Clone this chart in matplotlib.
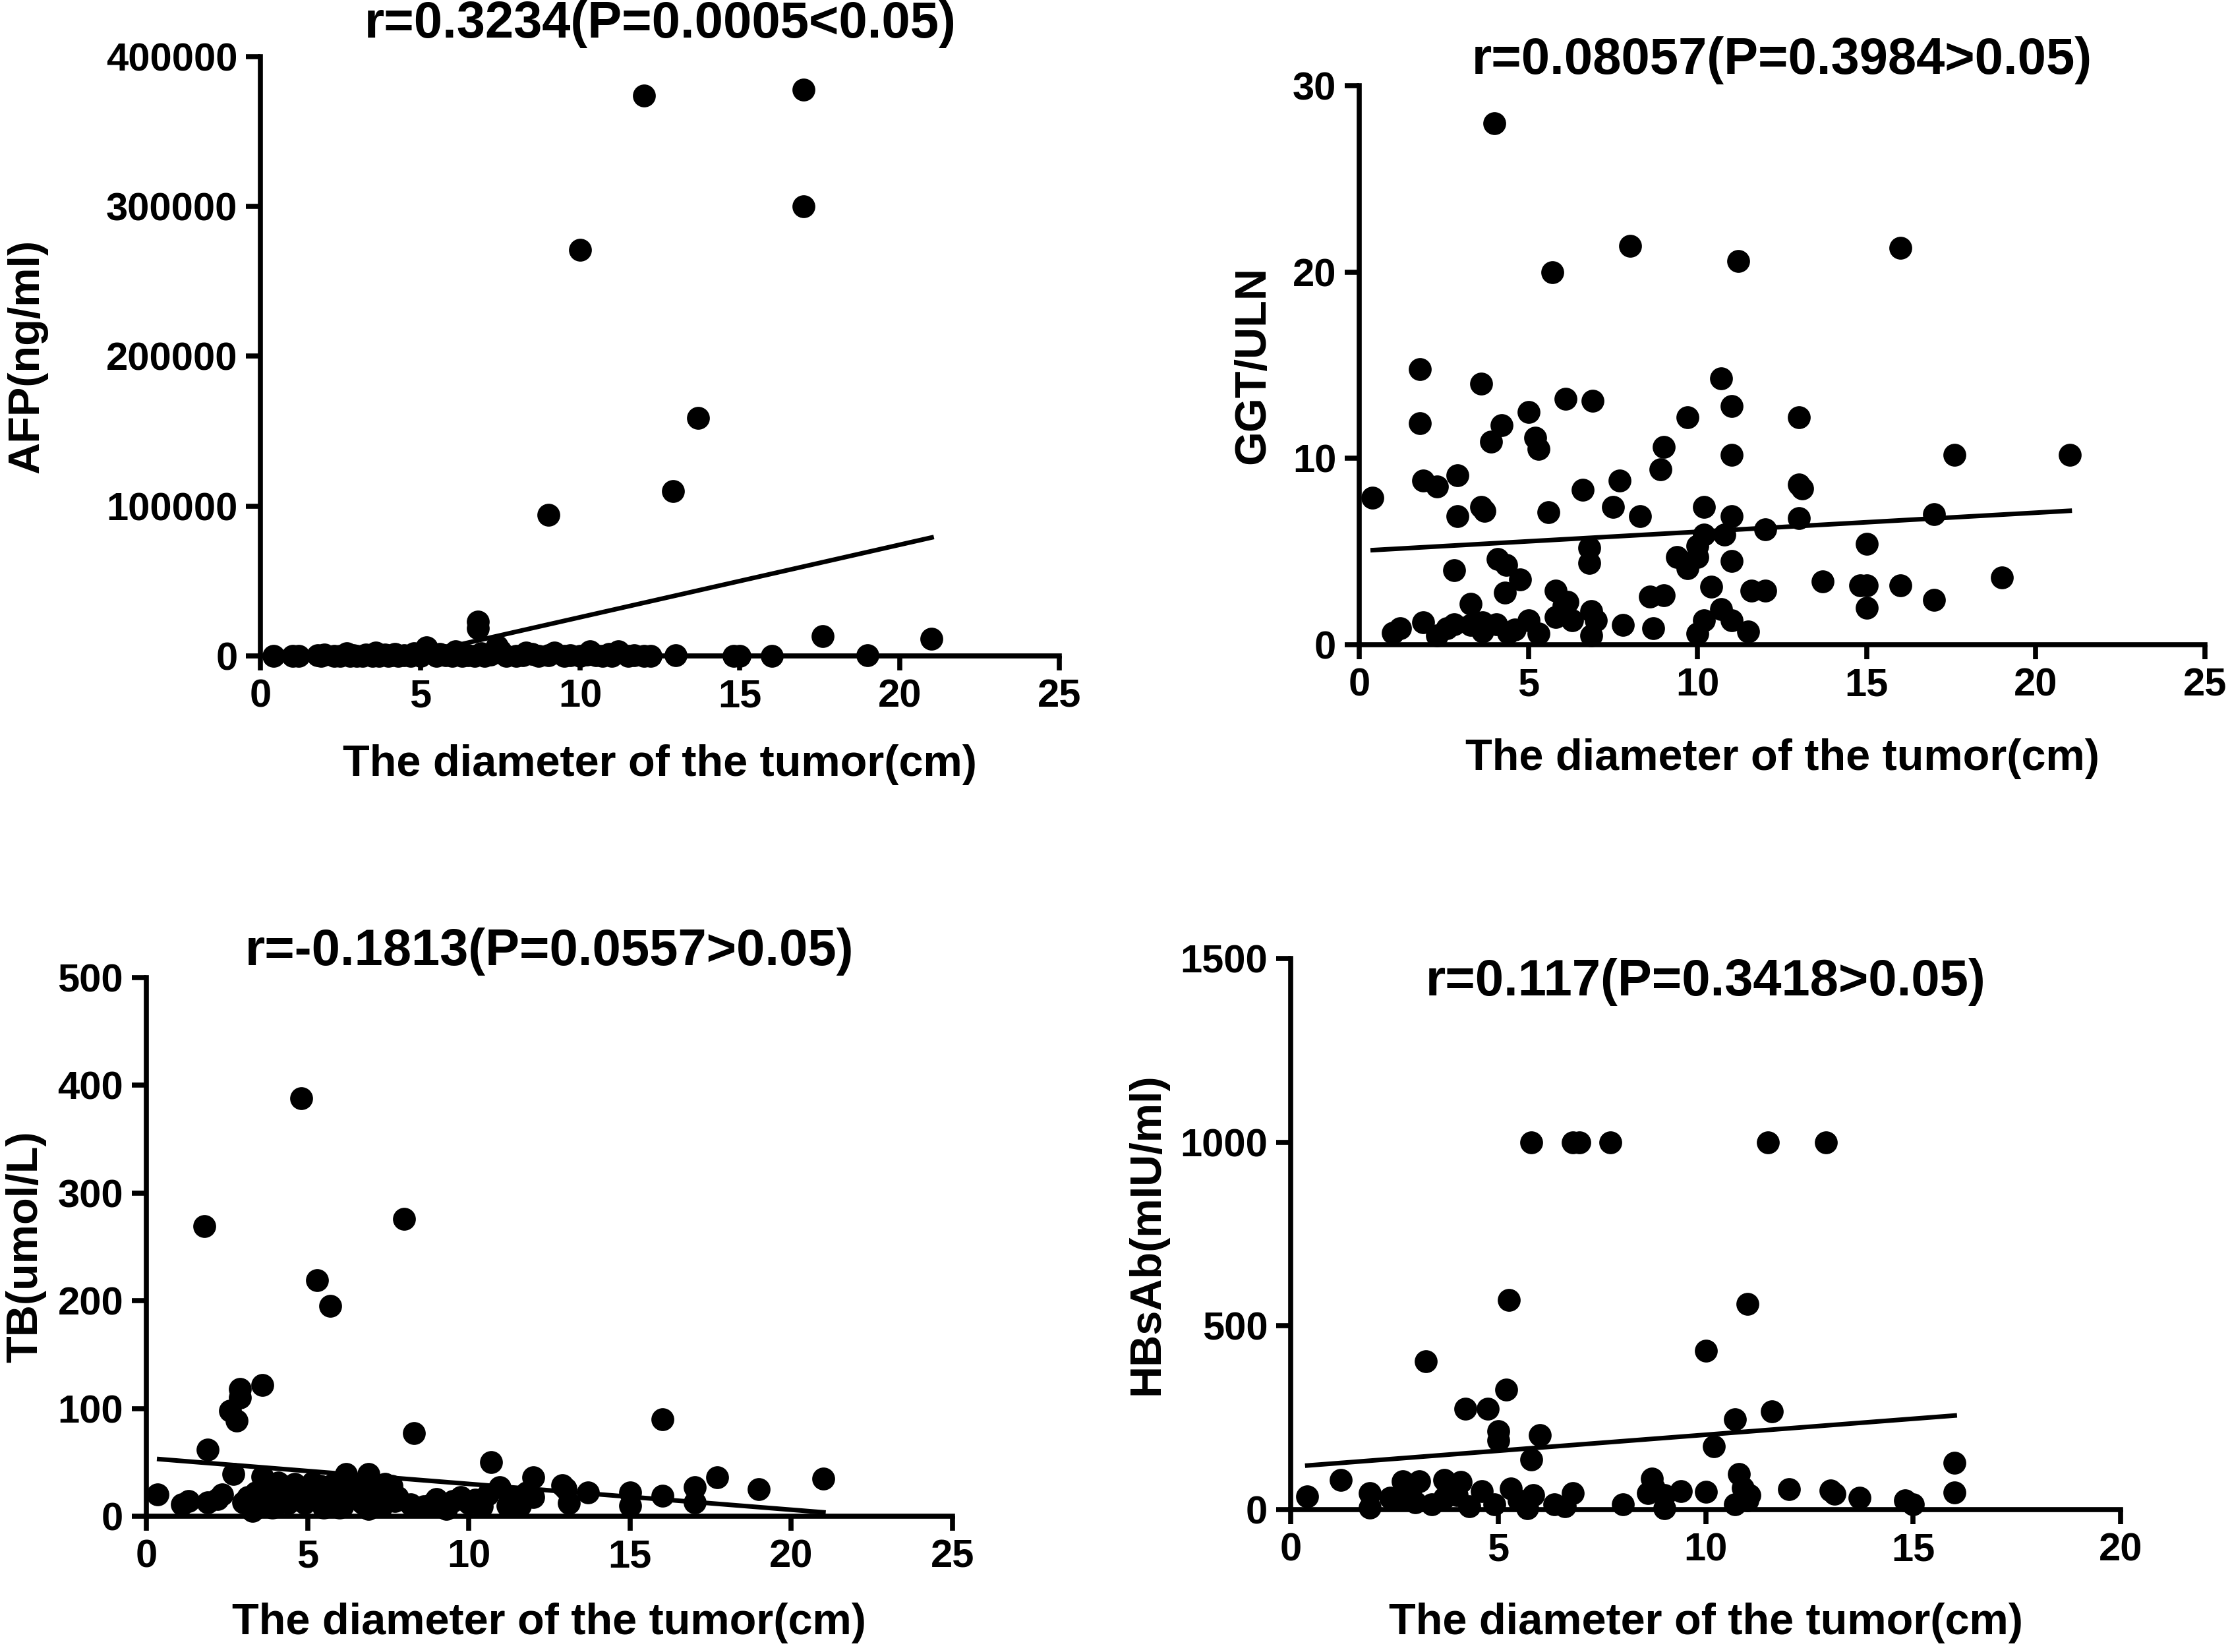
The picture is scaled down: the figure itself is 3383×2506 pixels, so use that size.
import matplotlib
matplotlib.use('Agg')
from matplotlib import pyplot as plt
import numpy as np

plt.rcParams['font.family'] = ['Liberation Sans', 'DejaVu Sans']
plt.rcParams['font.weight'] = 'bold'

# AFP vs diameter (most AFP values sit on the axis)
afp_x = [
    0.4, 1.0, 1.2, 1.8, 1.9, 2.0, 2.3, 2.5, 2.7, 2.8,
    2.9, 3.0, 3.2, 3.3, 3.5, 3.6, 3.7, 3.9, 4.0, 4.1,
    4.2, 4.3, 4.5, 4.7, 4.8, 5.0, 5.0, 5.3, 5.5, 5.6,
    5.8, 6.0, 6.1, 6.3, 6.5, 6.7, 6.9, 7.0, 7.2, 7.5,
    7.7, 8.0, 8.2, 8.5, 8.7, 9.0, 9.2, 9.5, 9.7, 10.0,
    10.2, 10.5, 10.7, 10.9, 11.0, 11.2, 11.5, 11.7, 12.0, 12.2,
    13.0, 14.8, 15.0, 16.0, 19.0, 5.2, 6.8, 6.8, 7.4, 10.3,
    8.3, 17.6, 21.0, 9.0, 10.0, 12.0, 12.9, 13.7, 17.0, 17.0,
]
afp_y = [
    20, 150, 40, 300, 12, 900, 60, 25, 1500, 80,
    400, 30, 10, 650, 120, 2200, 45, 700, 18, 260,
    1100, 35, 500, 90, 1800, 8, 330, 2500, 70, 1300,
    200, 15, 3000, 140, 600, 55, 1600, 22, 850, 3500,
    95, 50, 450, 1200, 30, 180, 2000, 65, 380, 14,
    900, 250, 40, 1400, 110, 3200, 75, 520, 28, 160,
    350, 120, 40, 90, 600, 5500, 22800, 18600, 6500, 3200,
    2000, 13300, 11300, 94000, 271000, 374000, 110000, 159000, 378000, 300000,
]
afp_fit_x = [0.4, 21.0]
afp_fit_y = [-20700, 79000]

# GGT/ULN vs diameter
ggt_x = [
    4.0, 8.0, 16.0, 11.2, 5.7, 1.8, 3.6, 10.7, 6.1, 6.9,
    11.0, 1.8, 5.0, 13.0, 9.7, 4.2, 3.9, 5.2, 5.3, 11.0,
    9.0, 17.6, 21.0, 8.9, 2.9, 1.9, 2.3, 7.7, 6.6, 13.0,
    13.1, 0.4, 3.6, 3.7, 5.6, 7.5, 2.9, 8.3, 10.2, 11.0,
    13.0, 17.0, 12.0, 10.8, 10.2, 15.0, 6.8, 6.8, 10.0, 9.4,
    9.7, 10.0, 11.0, 4.1, 4.35, 2.8, 4.75, 4.3, 13.7, 14.8,
    15.0, 16.0, 19.0, 10.4, 11.6, 12.0, 5.8, 6.15, 8.6, 9.0,
    17.0, 15.0, 3.3, 1.2, 1.0, 1.9, 2.6, 2.8, 3.3, 3.65,
    4.05, 4.4, 4.6, 5.0, 5.3, 5.8, 6.05, 6.3, 6.85, 7.0,
    6.85, 7.8, 8.7, 10.0, 10.2, 10.7, 11.0, 11.5, 3.65, 2.3,
]
ggt_y = [
    28.0, 21.4, 21.3, 20.6, 20.0, 14.8, 14.0, 14.3, 13.2, 13.1,
    12.8, 11.9, 12.5, 12.2, 12.2, 11.8, 10.9, 11.1, 10.5, 10.2,
    10.6, 10.2, 10.2, 9.4, 9.1, 8.8, 8.5, 8.8, 8.3, 8.6,
    8.4, 7.9, 7.4, 7.2, 7.1, 7.4, 6.9, 6.9, 7.4, 6.9,
    6.8, 7.0, 6.2, 5.9, 5.9, 5.4, 5.2, 4.4, 5.3, 4.7,
    4.1, 4.7, 4.5, 4.6, 4.3, 4.0, 3.5, 2.8, 3.4, 3.2,
    3.2, 3.2, 3.6, 3.1, 2.9, 2.9, 2.9, 2.3, 2.6, 2.65,
    2.4, 2.0, 2.2, 0.9, 0.65, 1.2, 0.9, 1.1, 1.05, 1.2,
    1.1, 0.65, 0.8, 1.3, 0.6, 1.5, 2.1, 1.3, 1.8, 1.3,
    0.5, 1.05, 0.9, 0.6, 1.3, 1.9, 1.3, 0.7, 0.7, 0.5,
]
ggt_fit_x = [0.4, 21.0]
ggt_fit_y = [5.08, 7.19]

# TB vs diameter
tb_x = [
    4.8, 1.8, 8.0, 5.3, 5.7, 3.6, 2.9, 2.9, 2.6, 2.8,
    16.0, 8.3, 1.9, 10.7, 2.7, 12.0, 17.7, 21.0, 19.0, 6.2,
    6.9, 13.0, 13.7, 15.0, 15.0, 16.0, 17.0, 17.0, 0.35, 1.1,
    1.3, 1.9, 2.35, 3.15, 3.3, 3.6, 3.65, 3.9, 4.1, 4.3,
    4.4, 4.9, 5.15, 5.2, 5.4, 5.6, 5.9, 6.0, 6.1, 6.6,
    6.7, 6.9, 7.4, 7.6, 7.7, 7.8, 8.6, 9.0, 9.3, 9.75,
    10.0, 10.2, 10.4, 10.95, 11.2, 11.3, 11.5, 11.6, 12.0, 12.9,
    13.1, 4.5, 3.4, 2.2, 8.2, 3.8, 4.6, 5.0, 5.8, 6.4,
    7.1, 8.9, 9.5, 10.6, 11.8, 4.0, 5.5, 7.3, 3.0, 6.3,
]
tb_y = [
    388, 269, 276, 219, 195, 122, 118, 110, 98, 89,
    90, 77, 62, 50, 39, 36, 36, 35, 25, 39,
    39, 26, 22, 22, 10, 19, 27, 13, 20, 11,
    14, 13, 20, 18, 5, 37, 15, 8, 31, 20,
    12, 12, 31, 20, 28, 16, 17, 8, 10, 30,
    12, 7, 30, 28, 14, 18, 9, 16, 7, 18,
    12, 15, 9, 27, 10, 16, 18, 10, 18, 29,
    12, 25, 22, 16, 11, 25, 30, 22, 30, 19,
    22, 12, 14, 20, 22, 10, 8, 9, 13, 26,
]
tb_fit_x = [0.4, 21.0]
tb_fit_y = [53.0, 3.6]

# HBsAb vs diameter
hbsab_x = [
    5.8, 6.8, 6.95, 7.7, 11.5, 12.9, 5.25, 11.0, 3.25, 10.0,
    5.2, 4.2, 4.75, 11.6, 10.7, 5.0, 5.0, 6.0, 10.2, 5.8,
    16.0, 16.0, 1.2, 0.4, 10.8, 8.7, 12.0, 13.0, 13.1, 13.7,
    14.8, 15.0, 1.9, 1.9, 2.4, 2.7, 3.1, 2.7, 3.4, 3.7,
    4.1, 3.7, 4.3, 4.9, 5.3, 5.85, 5.7, 6.35, 6.8, 6.6,
    8.0, 8.6, 9.0, 9.4, 9.0, 10.0, 10.7, 11.05, 4.0, 2.9,
    5.5, 8.75, 11.0, 10.9, 3.0, 4.6,
]
hbsab_y = [
    1000, 1000, 1000, 1000, 1000, 1000, 570, 560, 404, 433,
    327, 274, 274, 267, 245, 213, 188, 202, 173, 137,
    128, 47, 80, 36, 97, 84, 55, 52, 43, 33,
    25, 14, 45, 5, 33, 78, 78, 27, 15, 81,
    75, 33, 9, 15, 57, 39, 3, 15, 45, 9,
    15, 45, 39, 51, 3, 48, 15, 39, 40, 60,
    25, 60, 25, 60, 20, 50,
]
hbsab_fit_x = [0.4, 16.0]
hbsab_fit_y = [120, 256]

fig = plt.figure(figsize=(33.83, 25.06), dpi=100)


def draw_panel(rect, x, y, fit_x, fit_y, xmax, ymax, ystep, ylabel, title,
               title_y, xlabel_y, ylabel_x):
    ax = fig.add_axes(rect)
    ax.plot(x, y, 'o', color='black', ms=25, mew=0, clip_on=False, zorder=3)
    ax.plot(fit_x, fit_y, color='black', lw=5, zorder=4)
    ax.set_xlim(0, xmax)
    ax.set_ylim(0, ymax)
    xt = list(range(0, xmax + 1, 5))
    yt = list(np.arange(0, ymax + 1, ystep))
    ax.set_xticks(xt)
    ax.set_xticklabels([str(v) for v in xt])
    ax.set_yticks(yt)
    ax.set_yticklabels([str(int(v)) for v in yt])
    for s in ('top', 'right'):
        ax.spines[s].set_visible(False)
    for s in ('left', 'bottom'):
        ax.spines[s].set_linewidth(5.5)
    ax.tick_params(direction='out', length=16, width=5.5, pad=9, labelsize=43)
    ax.text(0.5, title_y, title, transform=ax.transAxes, ha='center',
            va='center', fontsize=56, fontweight='bold')
    ax.text(0.5, xlabel_y, 'The diameter of the tumor(cm)', transform=ax.transAxes,
            ha='center', va='center', fontsize=48, fontweight='bold')
    ax.text(ylabel_x, 0.5, ylabel, transform=ax.transAxes, rotation=90,
            ha='center', va='center', fontsize=48, fontweight='bold')
    return ax


draw_panel([0.1168, 0.6030, 0.3583, 0.3627], afp_x, afp_y, afp_fit_x, afp_fit_y,
           25, 400000, 100000, 'AFP(ng/ml)', 'r=0.3234(P=0.0005<0.05)',
           1.054, -0.1815, -0.292)
draw_panel([0.6095, 0.6097, 0.3793, 0.3384], ggt_x, ggt_y, ggt_fit_x, ggt_fit_y,
           25, 30, 10, 'GGT/ULN', 'r=0.08057(P=0.3984>0.05)',
           1.046, -0.204, -0.125)
draw_panel([0.0656, 0.0822, 0.3615, 0.3260], tb_x, tb_y, tb_fit_x, tb_fit_y,
           25, 500, 100, 'TB(umol/L)', 'r=-0.1813(P=0.0557>0.05)',
           1.049, -0.198, -0.149)
draw_panel([0.5788, 0.0862, 0.3722, 0.3336], hbsab_x, hbsab_y, hbsab_fit_x, hbsab_fit_y,
           20, 1500, 500, 'HBsAb(mIU/ml)', 'r=0.117(P=0.3418>0.05)',
           0.957, -0.206, -0.173)

fig.savefig('out.png', dpi=100, facecolor='white')
